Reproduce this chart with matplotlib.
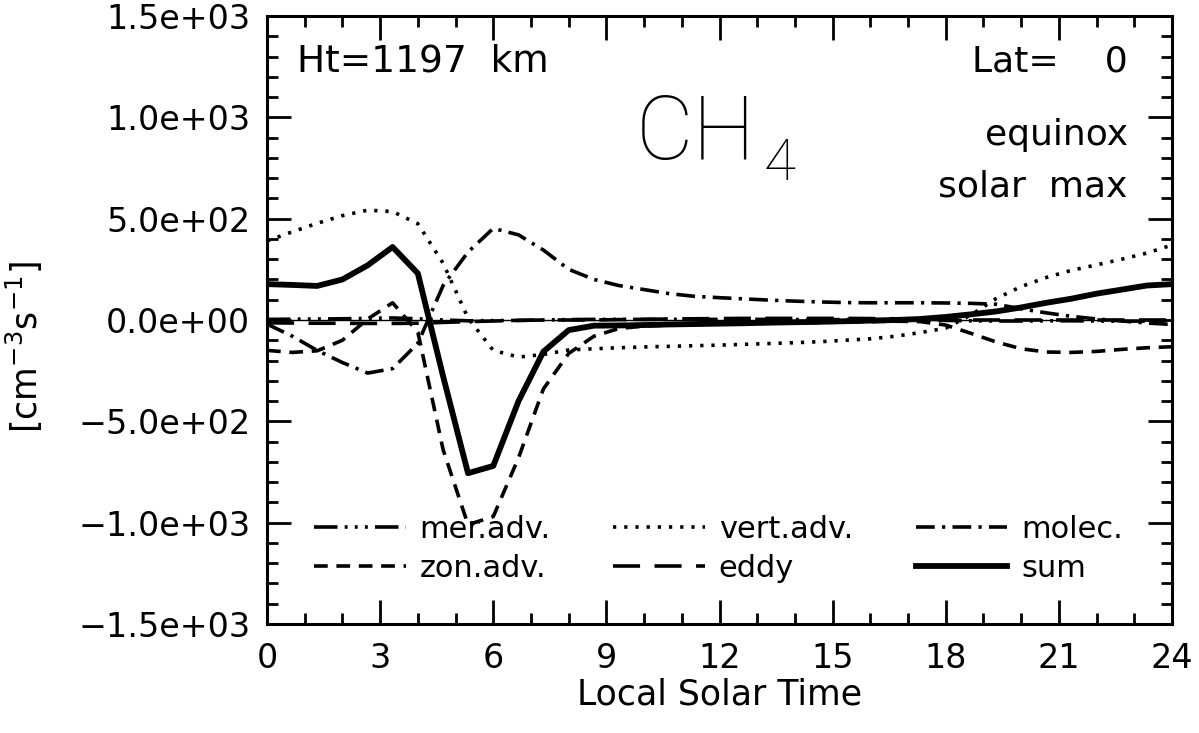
"""CH4 production/loss terms vs local solar time."""

import matplotlib
matplotlib.use("Agg")
import matplotlib.pyplot as plt
from matplotlib.ticker import MultipleLocator

plt.rcParams["font.family"] = ["DejaVu Sans"]

# local solar time grid (hours)
lst = [0.0, 0.67, 1.33, 2.0, 2.67, 3.33, 4.0, 4.67, 5.33, 6.0, 6.67, 7.33,
       8.0, 8.67, 9.33, 10.0, 10.67, 11.33, 12.0, 12.67, 13.33, 14.0, 14.67,
       15.33, 16.0, 16.67, 17.33, 18.0, 18.67, 19.33, 20.0, 20.67, 21.33,
       22.0, 22.67, 23.33, 24.0]

mer_adv = [3, 4, 5, 6, 8, 10, 6, 0, -4, -3, -2, 0, 2, 3, 3, 3, 3, 3, 3, 3,
           3, 2, 2, 2, 2, 1, 0, -2, -4, -5, -5, -4, -4, -5, -6, -5, -3]
zon_adv = [-150, -160, -152, -100, 5, 85, -60, -640, -1010, -970, -680,
           -340, -165, -80, -42, -30, -25, -22, -20, -18, -16, -14, -12, -10,
           -8, -6, -8, -25, -66, -108, -142, -158, -160, -155, -145, -137, -132]
vert_adv = [390, 435, 477, 515, 542, 535, 475, 280, 10, -150, -183, -170,
            -148, -142, -137, -133, -130, -127, -124, -120, -116, -112, -107,
            -100, -93, -80, -62, -40, 25, 105, 165, 210, 245, 272, 300, 330, 370]
eddy = [-14, -15, -16, -16, -17, -17, -16, -12, -8, -5, -2, 0, 0, 0, 2, 3, 5,
        6, 7, 8, 8, 8, 8, 8, 7, 6, 4, 2, 0, 0, 0, 0, 0, 0, 0, 0, 0]
molec = [-20, -80, -150, -210, -262, -240, -115, 170, 335, 452, 420, 345,
         250, 200, 170, 150, 130, 117, 110, 104, 98, 93, 89, 86, 85, 85, 85,
         84, 82, 78, 55, 35, 18, 5, -5, -15, -22]
total = [177, 173, 168, 200, 270, 360, 230, -278, -756, -720, -400, -156,
         -50, -28, -27, -25, -22, -20, -18, -16, -13, -11, -9, -6, -3, 0, 5,
         15, 28, 42, 62, 85, 105, 130, 150, 170, 177]

fig = plt.figure(figsize=(11.99, 7.33), dpi=100)
ax = fig.add_axes([0.2227, 0.1487, 0.7548, 0.8295])

lw = 2.6
ax.axhline(0, color="black", lw=1.0)
l_mer, = ax.plot(lst, mer_adv, color="black", lw=lw,
                 dashes=(6.5, 2.0, 0.8, 2.0, 0.8, 2.0, 0.8, 2.0))
l_zon, = ax.plot(lst, zon_adv, color="black", lw=lw, dashes=(3.8, 2.4))
l_vert, = ax.plot(lst, vert_adv, color="black", lw=lw, dashes=(0.9, 2.2))
l_eddy, = ax.plot(lst, eddy, color="black", lw=lw, dashes=(7.5, 4.0))
l_mol, = ax.plot(lst, molec, color="black", lw=lw, dashes=(5.2, 2.0, 0.9, 2.0))
l_sum, = ax.plot(lst, total, color="black", lw=4.2)

ax.set_xlim(0, 24)
ax.set_ylim(-1500, 1500)
ax.xaxis.set_major_locator(MultipleLocator(3))
ax.xaxis.set_minor_locator(MultipleLocator(1))
ax.yaxis.set_major_locator(MultipleLocator(500))
ax.yaxis.set_minor_locator(MultipleLocator(100))
ax.yaxis.set_major_formatter(lambda v, pos: f"{v:.1e}".replace("-", "\u2212"))

for s in ax.spines.values():
    s.set_linewidth(2.2)
ax.tick_params(which="both", direction="in", top=True, right=True,
               width=2.0, labelsize=24)
ax.tick_params(which="major", length=17)
ax.tick_params(which="minor", length=8)
ax.tick_params(axis="x", pad=13)
ax.tick_params(axis="y", pad=12)

ax.set_xlabel("Local Solar Time", fontsize=25)
ax.xaxis.set_label_coords(0.5, -0.088)
ax.set_ylabel(r"[cm$^{-3}$s$^{-1}$]", fontsize=25)
ax.yaxis.set_label_coords(-0.245, 0.456)

ax.text(0.033, 0.925, "Ht=1197  km", transform=ax.transAxes, fontsize=27,
        ha="left", va="center")
ax.text(0.951, 0.925, "Lat=    0", transform=ax.transAxes, fontsize=26,
        ha="right", va="center")
ax.text(0.951, 0.805, "equinox", transform=ax.transAxes, fontsize=26,
        ha="right", va="center")
ax.text(0.951, 0.72, "solar  max", transform=ax.transAxes, fontsize=26,
        ha="right", va="center")
ax.text(0.407, 0.764, "CH", transform=ax.transAxes, fontsize=64,
        family="Roboto", weight="light", ha="left", va="baseline")
ax.text(0.549, 0.731, "4", transform=ax.transAxes, fontsize=42,
        family="Roboto", weight="light", ha="left", va="baseline")

handles = [l_mer, l_zon, l_vert, l_eddy, l_mol, l_sum]
labels = ["mer.adv.", "zon.adv.", "vert.adv.", "eddy", "molec.", "sum"]
ax.legend(handles, labels, ncol=3, loc="upper left",
          bbox_to_anchor=(0.052, 0.18), frameon=False, fontsize=22,
          handlelength=3.0, handletextpad=0.45, columnspacing=2.05,
          labelspacing=0.33, borderpad=0, borderaxespad=0)

plt.savefig("out.png", dpi=100)
plt.close()
